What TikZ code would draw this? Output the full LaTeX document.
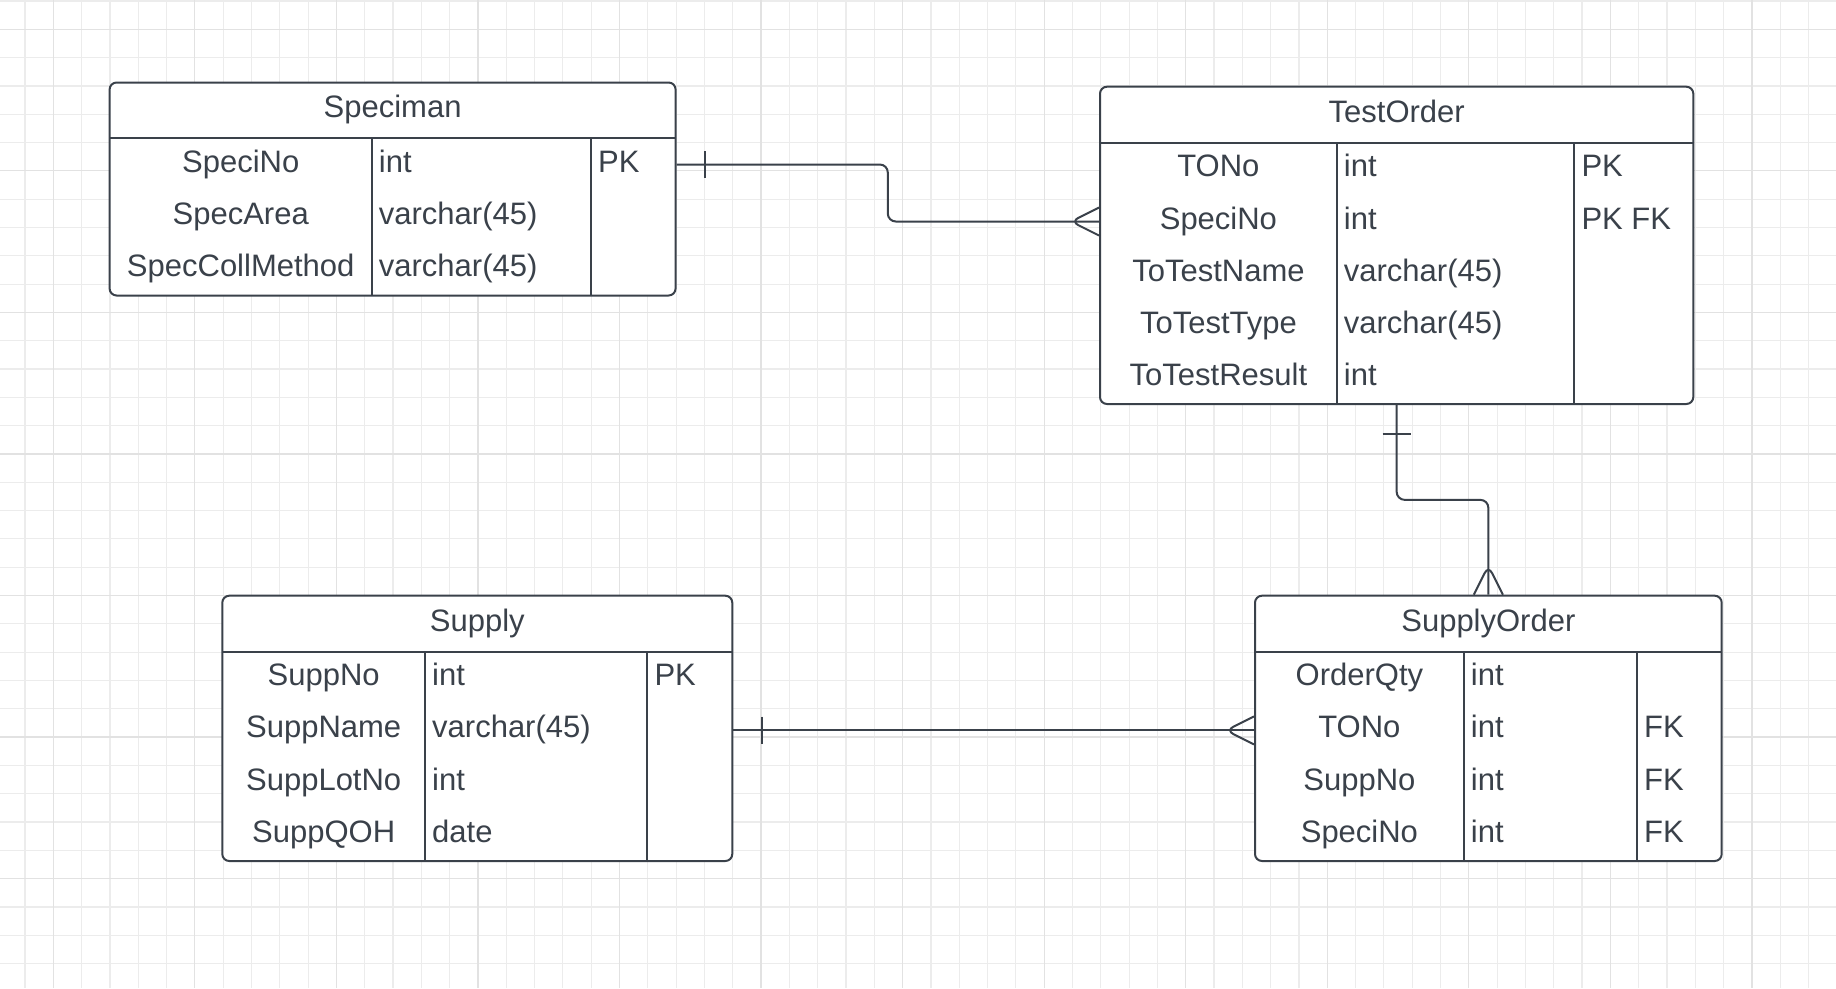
\documentclass[tikz,border=0pt]{standalone}
\usepackage{fontspec}
\setmainfont{Liberation Sans}
\usetikzlibrary{calc}

\definecolor{ink}{RGB}{58,65,74}
\definecolor{gridlight}{RGB}{236,236,236}
\definecolor{griddark}{RGB}{226,226,226}

\begin{document}
\begin{tikzpicture}[x=1pt,y=1pt,yscale=-1,
  tablebox/.style={draw=ink,fill=white,line width=2pt,rounded corners=7pt,inner sep=0pt},
  tableline/.style={draw=ink,line width=2pt},
  conn/.style={draw=ink,line width=2pt,rounded corners=8pt},
  fieldtext/.style={text=ink,inner sep=0pt,font=\fontsize{31}{37}\selectfont,text height=22pt,text depth=7pt},
  typetext/.style={fieldtext,anchor=west,inner xsep=7pt},
  gridminor/.style={draw=gridlight,line width=1.2pt},
  gridmajor/.style={draw=griddark,line width=1.2pt}]
%set diagram size: 1836 x 988
\fill[white] (0,0) rectangle (1836,988);
\useasboundingbox (0,0) rectangle (1836,988);

%Grid
\foreach \i in {0,...,64} \draw[gridminor] ({25+28.31*\i},0) -- ({25+28.31*\i},988);
\foreach \i in {0,...,34} \draw[gridminor] (0,{1+28.31*\i}) -- (1836,{1+28.31*\i});
\foreach \i in {0,...,12} \draw[gridmajor] ({53.3+141.55*\i},0) -- ({53.3+141.55*\i},988);
\foreach \i in {0,...,6} \draw[gridmajor] (0,{29.3+141.55*\i}) -- (1836,{29.3+141.55*\i});

%Shape: Table Speciman
\node[tablebox,minimum width=566pt,minimum height=213pt] (speciman) at (392.6,189) {};
\draw[tableline] (109.6,138.3) -- (675.6,138.3);
\draw[tableline] (371.7,138.3) -- (371.7,295.5);
\draw[tableline] (591,138.3) -- (591,295.5);
% Text Node
\node[fieldtext] (spc-title) at (392.6,110.4) {Speciman};
\node[fieldtext] (spc-specino) at (240.7,164.5) {SpeciNo};
\node[fieldtext] (spc-specarea) at (240.7,216.9) {SpecArea};
\node[fieldtext] (spc-speccoll) at (240.7,269.3) {SpecCollMethod};
\node[typetext] (spc-specino-t) at (371.7,164.5) {int};
\node[typetext] (spc-specarea-t) at (371.7,216.9) {varchar(45)};
\node[typetext] (spc-speccoll-t) at (371.7,269.3) {varchar(45)};
\node[typetext] (spc-specino-k) at (591,164.5) {PK};

%Shape: Table TestOrder
\node[tablebox,minimum width=593.3pt,minimum height=317.3pt] (testorder) at (1396.65,245.35) {};
\draw[tableline] (1100,143.3) -- (1693.3,143.3);
\draw[tableline] (1336.7,143.3) -- (1336.7,404);
\draw[tableline] (1574.3,143.3) -- (1574.3,404);
% Text Node
\node[fieldtext] (tor-title) at (1396.65,115) {TestOrder};
\node[fieldtext] (tor-tono) at (1218.4,169.4) {TONo};
\node[fieldtext] (tor-specino) at (1218.4,221.5) {SpeciNo};
\node[fieldtext] (tor-name) at (1218.4,273.7) {ToTestName};
\node[fieldtext] (tor-type) at (1218.4,325.8) {ToTestType};
\node[fieldtext] (tor-result) at (1218.4,378) {ToTestResult};
\node[typetext] (tor-tono-t) at (1336.7,169.4) {int};
\node[typetext] (tor-specino-t) at (1336.7,221.5) {int};
\node[typetext] (tor-name-t) at (1336.7,273.7) {varchar(45)};
\node[typetext] (tor-type-t) at (1336.7,325.8) {varchar(45)};
\node[typetext] (tor-result-t) at (1336.7,378) {int};
\node[typetext] (tor-tono-k) at (1574.3,169.4) {PK};
\node[typetext] (tor-specino-k) at (1574.3,221.5) {PK FK};

%Shape: Table Supply
\node[tablebox,minimum width=510pt,minimum height=265.3pt] (supply) at (477.3,728.35) {};
\draw[tableline] (222.3,652) -- (732.3,652);
\draw[tableline] (425,652) -- (425,861);
\draw[tableline] (647.3,652) -- (647.3,861);
% Text Node
\node[fieldtext] (sup-title) at (477.3,623.9) {Supply};
\node[fieldtext] (sup-suppno) at (323.7,678.1) {SuppNo};
\node[fieldtext] (sup-suppname) at (323.7,730.4) {SuppName};
\node[fieldtext] (sup-supplot) at (323.7,782.6) {SuppLotNo};
\node[fieldtext] (sup-suppqoh) at (323.7,834.9) {SuppQOH};
\node[typetext] (sup-suppno-t) at (425,678.1) {int};
\node[typetext] (sup-suppname-t) at (425,730.4) {varchar(45)};
\node[typetext] (sup-supplot-t) at (425,782.6) {int};
\node[typetext] (sup-suppqoh-t) at (425,834.9) {date};
\node[typetext] (sup-suppno-k) at (647.3,678.1) {PK};

%Shape: Table SupplyOrder
\node[tablebox,minimum width=466.7pt,minimum height=265.3pt] (supplyorder) at (1488.35,728.35) {};
\draw[tableline] (1255,652) -- (1721.7,652);
\draw[tableline] (1463.7,652) -- (1463.7,861);
\draw[tableline] (1637,652) -- (1637,861);
% Text Node
\node[fieldtext] (sor-title) at (1488.35,623.9) {SupplyOrder};
\node[fieldtext] (sor-qty) at (1359.4,678.1) {OrderQty};
\node[fieldtext] (sor-tono) at (1359.4,730.4) {TONo};
\node[fieldtext] (sor-suppno) at (1359.4,782.6) {SuppNo};
\node[fieldtext] (sor-specino) at (1359.4,834.9) {SpeciNo};
\node[typetext] (sor-qty-t) at (1463.7,678.1) {int};
\node[typetext] (sor-tono-t) at (1463.7,730.4) {int};
\node[typetext] (sor-suppno-t) at (1463.7,782.6) {int};
\node[typetext] (sor-specino-t) at (1463.7,834.9) {int};
\node[typetext] (sor-tono-k) at (1637,730.4) {FK};
\node[typetext] (sor-suppno-k) at (1637,782.6) {FK};
\node[typetext] (sor-specino-k) at (1637,834.9) {FK};

%Connector Speciman - TestOrder
\coordinate (c1a) at (speciman.east |- spc-specino);
\coordinate (c1b) at (testorder.west |- tor-specino);
\coordinate (c1m) at ($(speciman.east)!0.5!(testorder.west)$);
\draw[conn] (c1a) -| (c1m |- c1b) -- (c1b);
\draw[conn] ($(c1a)+(28.5,-13.5)$) -- ($(c1a)+(28.5,13.5)$);
\draw[conn] ($(c1b)+(0,-14)$) -- ($(c1b)+(-28,0)$) -- ($(c1b)+(0,14)$);

%Connector TestOrder - SupplyOrder
\coordinate (c2m) at ($(testorder.south)!0.5!(supplyorder.north)$);
\draw[conn] (testorder.south) |- (c2m) -| (supplyorder.north);
\draw[conn] ($(testorder.south)+(-14,29)$) -- ($(testorder.south)+(14,29)$);
\draw[conn] ($(supplyorder.north)+(-14.5,0)$) -- ($(supplyorder.north)+(0,-29)$) -- ($(supplyorder.north)+(14.5,0)$);

%Connector Supply - SupplyOrder
\coordinate (c3a) at (supply.east |- sup-suppname);
\coordinate (c3b) at (supplyorder.west |- sor-tono);
\draw[conn] (c3a) -- (c3b);
\draw[conn] ($(c3a)+(28.2,-13.8)$) -- ($(c3a)+(28.2,13.8)$);
\draw[conn] ($(c3b)+(0,-14)$) -- ($(c3b)+(-28,0)$) -- ($(c3b)+(0,14)$);

\end{tikzpicture}
\end{document}
